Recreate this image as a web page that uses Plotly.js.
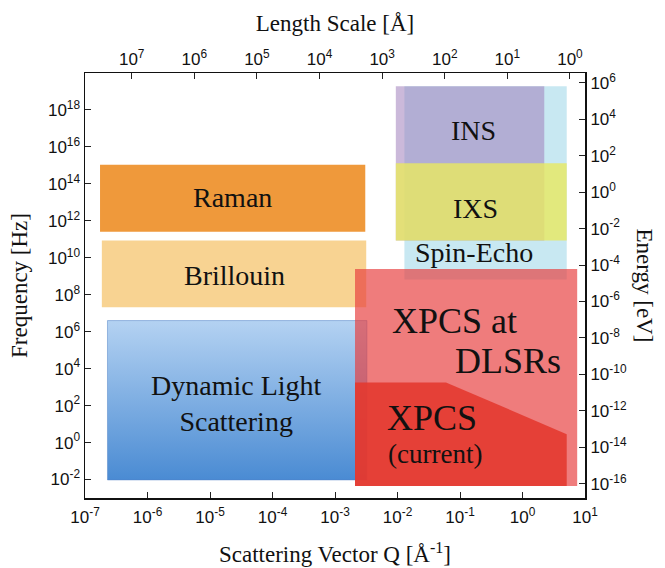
<!DOCTYPE html>
<html>
<head>
<meta charset="utf-8">
<script src="https://cdn.plot.ly/plotly-3.0.1.min.js"></script>
<style>html,body{margin:0;padding:0;background:#fff;}#chart{width:665px;height:568px;}</style>
</head>
<body>
<div id="chart"></div>
<script>
// ---- Data: technique regions (Q in 1/Å, frequency in Hz) ----
const ramanQ = [1.74e-7, 3.05e-3];
const ramanF = [2.6e11, 1.07e15];
const brillouinQ = [1.86e-7, 3.16e-3];
const brillouinF = [2.1e7, 8.5e10];
const dlsQ = [2.29e-7, 3.24e-3];
const dlsF = [9.5e-3, 4.0e6];
const spinEchoQ = [1.29e-2, 5.1];
const spinEchoF = [6.6e8, 1.9e19];
const insQ = [9.4e-3, 2.23];
const insF = [8.5e10, 1.9e19];
const ixsQ = [9.4e-3, 5.1];
const ixsF = [8.5e10, 1.3e15];
const xpcsDlsrQ = [2.09e-3, 7.5];
const xpcsDlsrF = [4.5e-3, 2.5e9];
// XPCS (current) outline
const xpcsNowQ = [2.09e-3, 2.09e-3, 0.0597, 5.1, 5.1, 2.09e-3];
const xpcsNowF = [4.5e-3, 1.8e3, 1.8e3, 2.85, 4.5e-3, 4.5e-3];

// tick exponents
const qExp = [-7, -6, -5, -4, -3, -2, -1, 0, 1];
const lengthExp = [7, 6, 5, 4, 3, 2, 1, 0];
const freqExp = [-2, 0, 2, 4, 6, 8, 10, 12, 14, 16, 18];
const energyExp = [-16, -14, -12, -10, -8, -6, -4, -2, 0, 2, 4, 6];

// labels
const regionLabels = {
  raman: 'Raman', brillouin: 'Brillouin', dls: 'Dynamic Light<br>Scattering',
  ins: 'INS', ixs: 'IXS', spin: 'Spin-Echo',
  dlsr1: 'XPCS at', dlsr2: 'DLSRs', now1: 'XPCS', now2: '(current)'
};

function rect(q, f) {
  return { x: [q[0], q[1], q[1], q[0], q[0]], y: [f[0], f[0], f[1], f[1], f[0]] };
}
function region(q, f, color) {
  const r = rect(q, f);
  return { type: 'scatter', mode: 'none', fill: 'toself', fillcolor: color,
    x: r.x, y: r.y, hoverinfo: 'skip', showlegend: false };
}

const dlsR = rect(dlsQ, dlsF);
const traces = [
  region(ramanQ, ramanF, '#ef993b'),
  region(brillouinQ, brillouinF, '#f8d392'),
  { type: 'scatter', mode: 'lines', fill: 'toself', x: dlsR.x, y: dlsR.y,
    line: { color: 'rgba(80,130,200,0.5)', width: 1 },
    fillgradient: { type: 'vertical', colorscale: [[0, '#4a8bd3'], [1, '#b4d2f2']] },
    hoverinfo: 'skip', showlegend: false },
  region(spinEchoQ, spinEchoF, '#c8e8f2'),
  region(insQ, insF, 'rgba(159,126,187,0.54)'),
  region(ixsQ, ixsF, 'rgba(232,232,95,0.8)'),
  region(xpcsDlsrQ, xpcsDlsrF, 'rgba(232,62,62,0.68)'),
  { type: 'scatter', mode: 'none', fill: 'toself', fillcolor: 'rgba(228,56,46,0.88)',
    x: xpcsNowQ, y: xpcsNowF, hoverinfo: 'skip', showlegend: false },
  { type: 'scatter', x: [], y: [], xaxis: 'x2', yaxis: 'y2', showlegend: false }
];

const tickFont = { family: 'Liberation Sans, Arial, sans-serif', size: 17, color: '#111' };
const serif = 'Liberation Serif, Times New Roman, serif';
const labFont = { family: serif, size: 28, color: '#111' };
const bigFont = { family: serif, size: 36, color: '#111' };
const pw = v => Math.pow(10, v);
const sup = v => '10<sup>' + v + '</sup>';

function ann(text, x, y, font, xanchor) {
  return { text: text, x: x, y: y, xref: 'x', yref: 'y', showarrow: false,
    font: font, xanchor: xanchor || 'center', yanchor: 'middle' };
}

function logAxis(extra, exps) {
  return Object.assign({
    type: 'log', autorange: false,
    tickmode: 'array', tickvals: exps.map(pw), ticktext: exps.map(sup),
    ticks: 'inside', ticklen: 6, tickcolor: '#222',
    showgrid: false, zeroline: false,
    showline: true, linecolor: '#111', linewidth: 1.5, tickfont: tickFont
  }, extra);
}

const layout = {
  width: 665, height: 568,
  margin: { l: 85, r: 80, t: 73, b: 70 },
  paper_bgcolor: '#fff', plot_bgcolor: '#fff',
  hovermode: false,
  xaxis: logAxis({ range: [-7, 1], ticklabelstandoff: 3,
    title: { text: 'Scattering Vector Q [\u00c5<sup>-1</sup>]', font: { family: serif, size: 23, color: '#111' }, standoff: 20 } }, qExp),
  xaxis2: logAxis({ range: [7.746, -0.24], overlaying: 'x', side: 'top', anchor: 'y',
    title: { text: 'Length Scale [\u00c5]', font: { family: serif, size: 23, color: '#111' }, standoff: 8 } }, lengthExp),
  yaxis: logAxis({ range: [-3, 20],
    title: { text: 'Frequency [Hz]', font: { family: serif, size: 23, color: '#111' }, standoff: 14 } }, freqExp),
  yaxis2: logAxis({ range: [-16.78, 6.54], overlaying: 'y', side: 'right', anchor: 'x', linewidth: 2 }, energyExp),
  annotations: [
    ann(regionLabels.raman, -4.64, 13.24, labFont),
    ann(regionLabels.brillouin, -4.61, 9.04, labFont),
    ann(regionLabels.dls, -4.57, 2.14, labFont),
    ann(regionLabels.ins, -0.787, 16.89, labFont),
    ann(regionLabels.ixs, -0.76, 12.65, labFont),
    ann(regionLabels.spin, -0.771, 10.28, labFont),
    ann(regionLabels.dlsr1, -2.12, 6.6, bigFont, 'left'),
    ann(regionLabels.dlsr2, 0.643, 4.43, bigFont, 'right'),
    ann(regionLabels.now1, -2.2, 1.355, bigFont, 'left'),
    ann(regionLabels.now2, -2.19, -0.61, { family: serif, size: 27, color: '#111' }, 'left'),
    { text: 'Energy [eV]', xref: 'paper', yref: 'paper', x: 1.118, y: 0.5, showarrow: false,
      textangle: 90, font: { family: serif, size: 23, color: '#111' }, xanchor: 'center', yanchor: 'middle' }
  ]
};

Plotly.newPlot('chart', traces, layout, { displayModeBar: false, staticPlot: true });
</script>
</body>
</html>
